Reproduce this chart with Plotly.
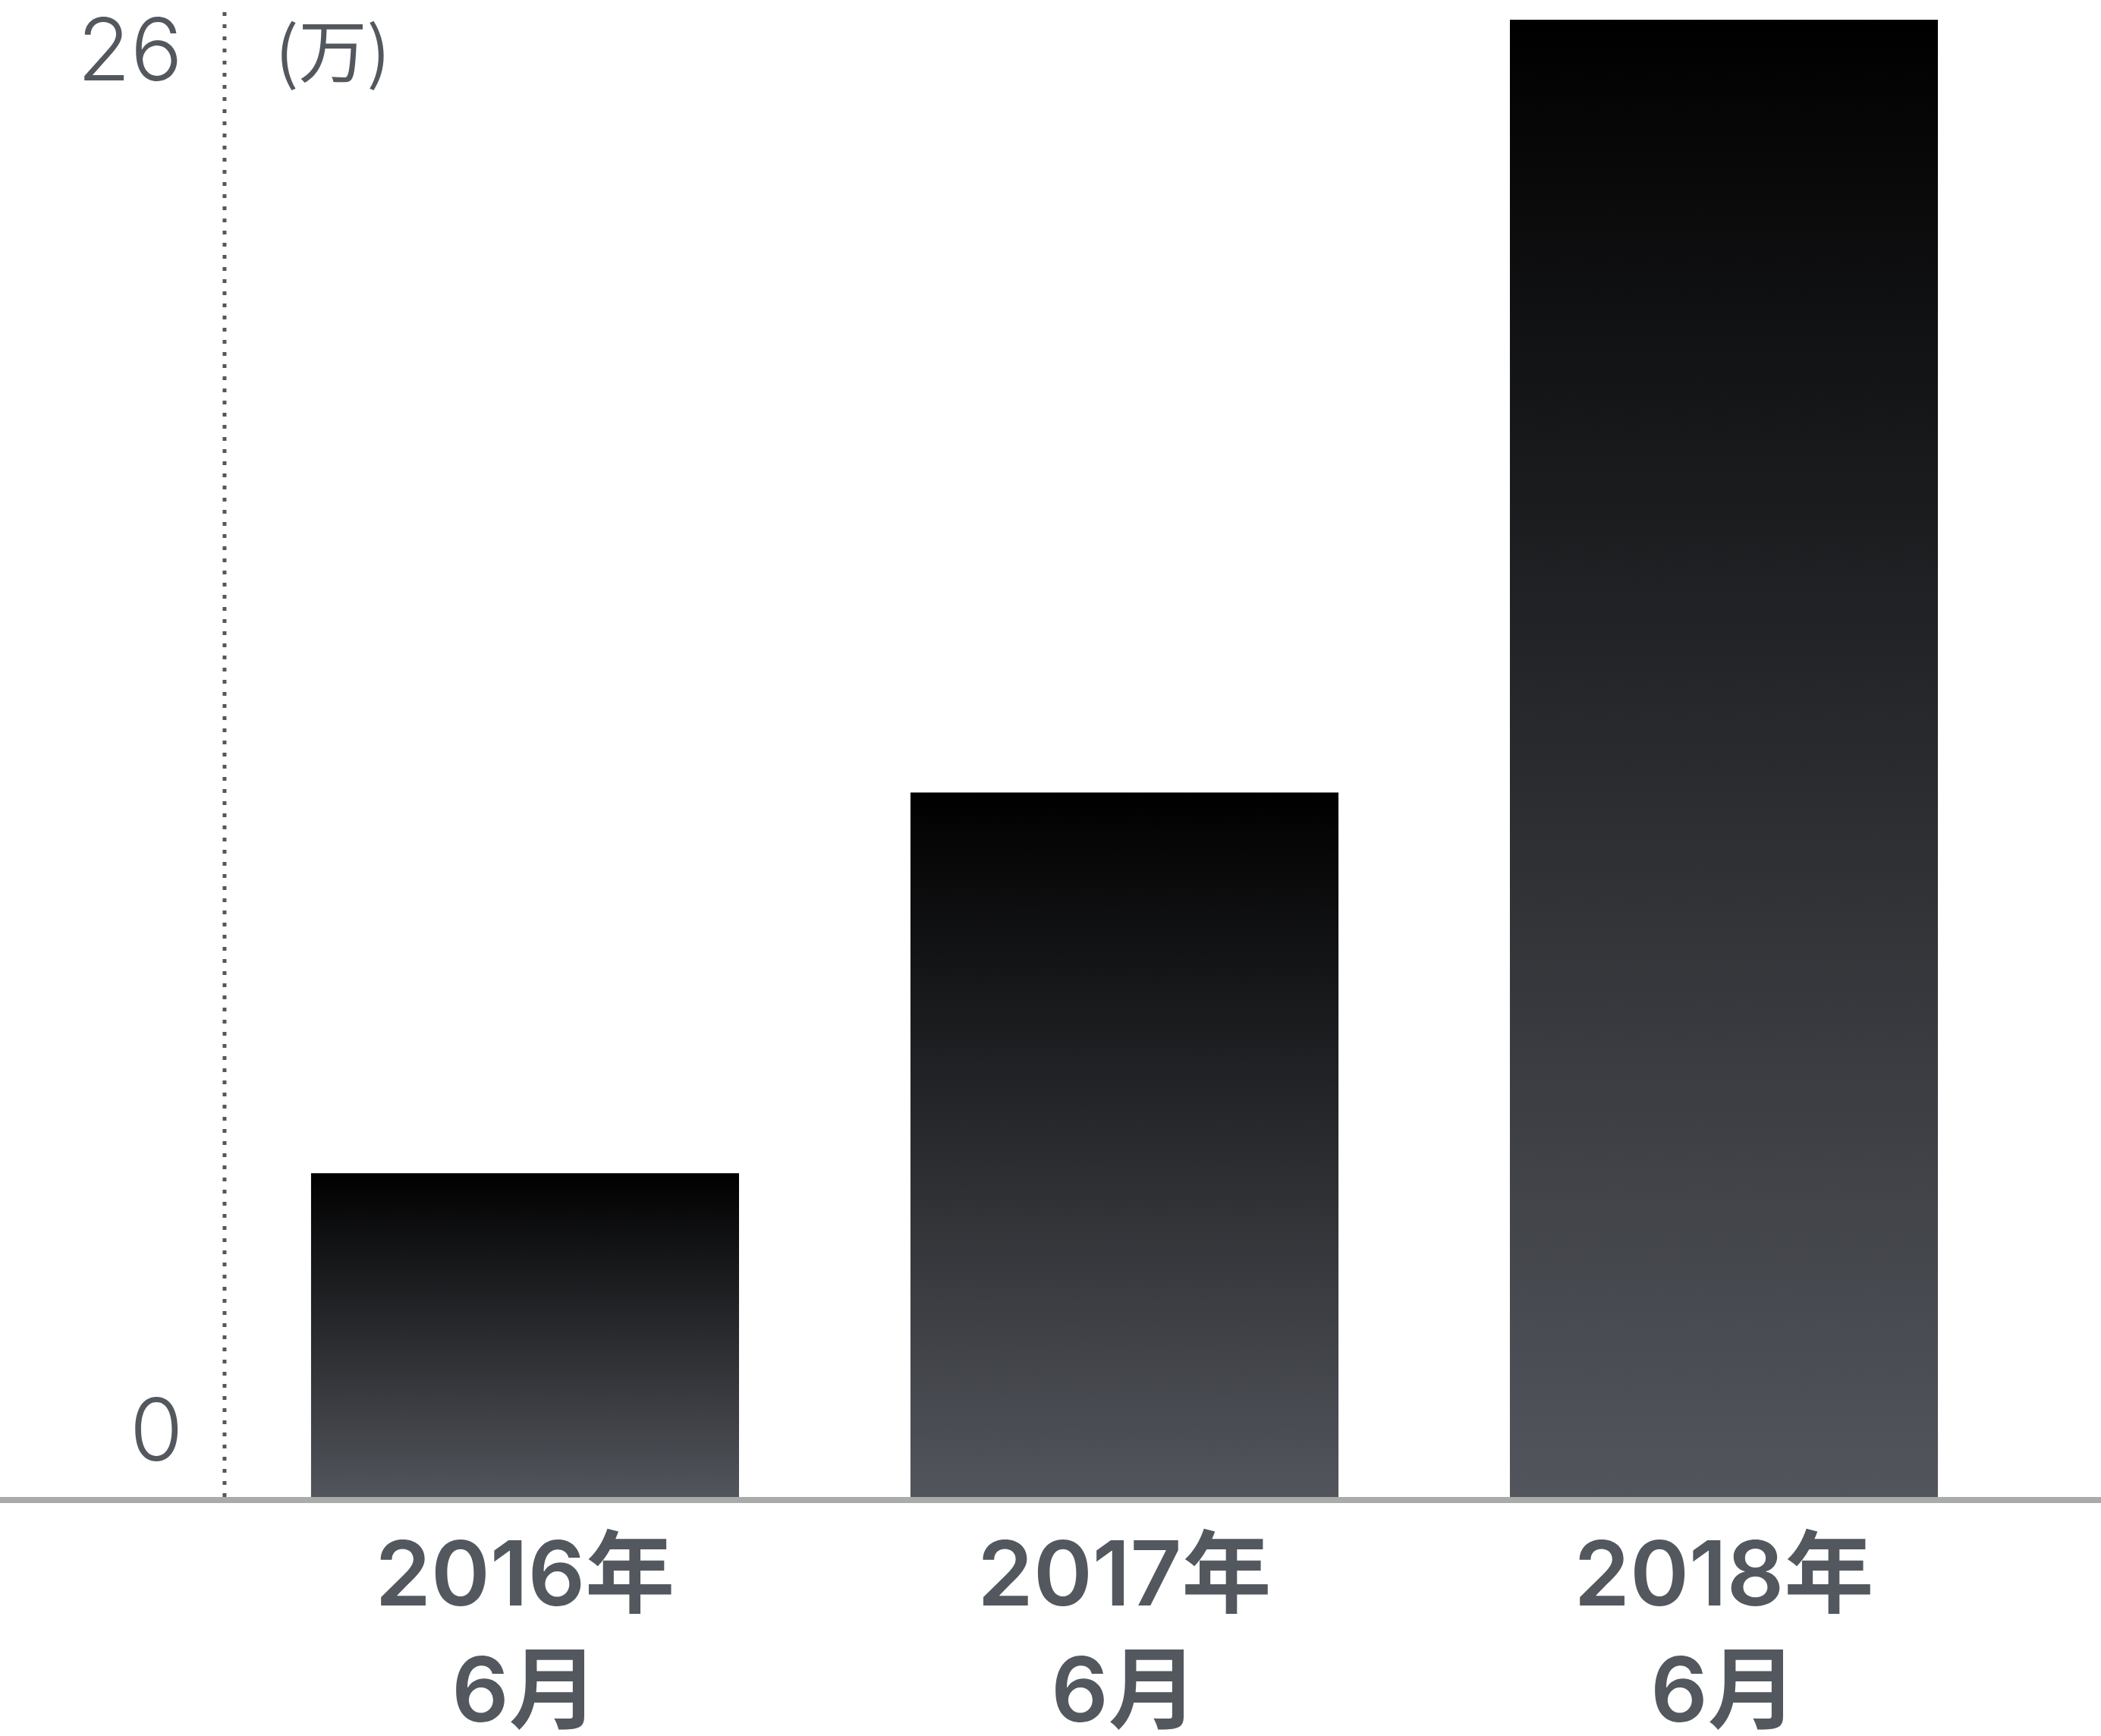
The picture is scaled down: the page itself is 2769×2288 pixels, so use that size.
import plotly.graph_objects as go

# Category labels (two lines each) and values in units of 万
periods = ["2016年<br>6月", "2017年<br>6月", "2018年<br>6月"]
values = [5.7, 12.4, 26]
axis_ticks = [0, 26]
unit_label = "(万)"

TEXT = "#53585f"
BAR_TOP = "#000000"
BAR_BOTTOM = "#52555c"
BASELINE = "#a9abaa"
BAR_WIDTH = 0.714

fig = go.Figure()

# Each bar is a filled rectangle with a vertical dark gradient
for i, v in enumerate(values):
    x0, x1 = i - BAR_WIDTH / 2, i + BAR_WIDTH / 2
    fig.add_trace(go.Scatter(
        x=[x0, x1, x1, x0, x0],
        y=[0, 0, v, v, 0],
        mode="lines",
        fill="toself",
        fillgradient=dict(type="vertical",
                          colorscale=[[0, BAR_BOTTOM], [1, BAR_TOP]]),
        line=dict(width=0),
        hoverinfo="skip",
        showlegend=False,
    ))

y_max = 26.134
axis_x = -0.5013

# dotted vertical axis
fig.add_shape(type="line", xref="x", yref="y",
              x0=axis_x, x1=axis_x, y0=0, y1=y_max,
              line=dict(color=TEXT, width=5, dash="5px,11px"))

# grey baseline under the bars, spanning the full width
fig.add_shape(type="rect", xref="paper", yref="paper",
              x0=0, x1=1, ysizemode="pixel", yanchor=0, y0=-8, y1=0,
              line=dict(width=0), fillcolor=BASELINE, layer="above")

# value labels on the left of the axis
label_font = dict(family="Inter, Liberation Sans, sans-serif", size=114,
                  color=TEXT, weight=300)
fig.add_annotation(x=-0.568, y=axis_ticks[1] - 0.52, xref="x", yref="y",
                   text=str(axis_ticks[1]), showarrow=False,
                   xanchor="right", yanchor="middle", font=label_font)
fig.add_annotation(x=-0.568, y=axis_ticks[0] + 1.19, xref="x", yref="y",
                   text=str(axis_ticks[0]), showarrow=False,
                   xanchor="right", yanchor="middle", font=label_font)

# unit label to the right of the axis
fig.add_annotation(x=-0.4185, y=25.52, xref="x", yref="y",
                   text=unit_label, showarrow=False,
                   xanchor="left", yanchor="middle",
                   font=dict(family="Noto Sans CJK SC, sans-serif", size=90,
                             color=TEXT, weight=400))

fig.update_layout(
    width=2769, height=2288,
    margin=dict(l=0, r=0, t=16, b=315, pad=0, autoexpand=False),
    paper_bgcolor="white", plot_bgcolor="white",
    xaxis=dict(range=[-0.8759, 2.6291], tickvals=[0, 1, 2], ticktext=periods,
               showgrid=False, zeroline=False, showline=False, ticks="",
               automargin=False,
               tickfont=dict(family="Inter, Noto Sans CJK SC, sans-serif",
                             size=118, color=TEXT, weight=600),
               ticklabelstandoff=24, fixedrange=True),
    yaxis=dict(range=[0, y_max], visible=False, fixedrange=True,
               automargin=False),
    showlegend=False,
)

fig.write_html("out.html")
